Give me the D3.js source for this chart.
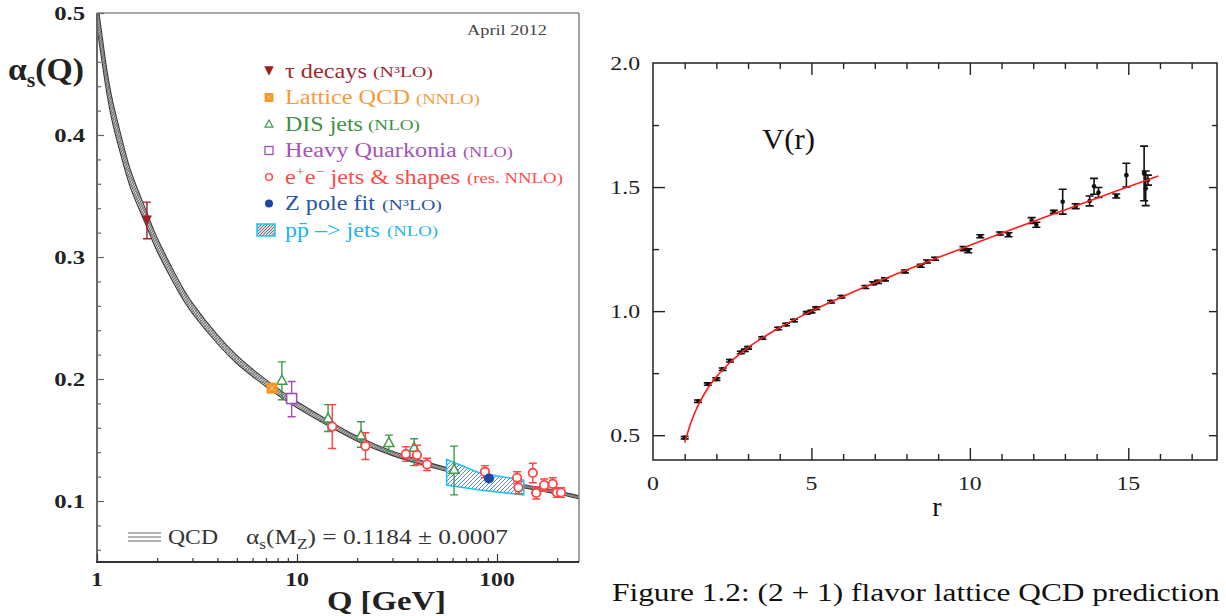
<!DOCTYPE html>
<html>
<head>
<meta charset="utf-8">
<script src="https://cdn.jsdelivr.net/npm/d3@7"></script>
<style>
  body { margin: 0; background: #fff; }
  svg { display: block; }
</style>
</head>
<body>
<svg id="fig" width="1226" height="616"></svg>
<script>
// ---------- left panel: running coupling alpha_s(Q) ----------
const qcdQ      = [1.0, 1.1, 1.2, 1.35, 1.5, 1.78, 2, 2.5, 3, 4, 5, 6, 7.5, 10, 15, 20, 30, 50, 70, 91.2, 120, 160, 200, 257];
const qcdAlpha  = [0.500, 0.452, 0.418, 0.385, 0.360, 0.330, 0.310, 0.279, 0.258, 0.2325, 0.216, 0.205, 0.193, 0.179, 0.162, 0.151, 0.139, 0.128, 0.122, 0.1184, 0.114, 0.110, 0.107, 0.103];
const qcdHalf   = [0.012, 0.010, 0.009, 0.008, 0.007, 0.006, 0.0055, 0.0048, 0.0042, 0.0036, 0.0033, 0.003, 0.0028, 0.0025, 0.0022, 0.002, 0.0018, 0.0016, 0.0015, 0.0015, 0.0014, 0.0013, 0.0013, 0.0012];

const tauQ = [1.777], tauAlpha = [0.330], tauLo = [0.015], tauHi = [0.015];
const latQ = [7.5], latAlpha = [0.1925], latLo = [0.002], latHi = [0.002];
const disQ = [8.4, 14.3, 20.9, 28.8, 38.5, 61];
const disAlpha = [0.199, 0.168, 0.154, 0.148, 0.144, 0.126];
const disLo = [0.016, 0.011, 0.010, 0.007, 0.015, 0.021];
const disHi = [0.015, 0.011, 0.011, 0.006, 0.007, 0.019];
const hqQ = [9.4], hqAlpha = [0.184], hqLo = [0.015], hqHi = [0.014];
const eeQ = [15, 22, 35, 39.8, 44.7, 87, 126, 128, 151, 157, 172, 190, 199, 209];
const eeAlpha = [0.161, 0.145, 0.1385, 0.1377, 0.130, 0.124, 0.119, 0.111, 0.123, 0.1066, 0.113, 0.114, 0.107, 0.107];
const eeErr = [0.018, 0.011, 0.006, 0.008, 0.005, 0.005, 0.005, 0.005, 0.008, 0.005, 0.005, 0.005, 0.004, 0.004];
const zQ = [91.2], zAlpha = [0.1184], zErr = [0.0007];
const ppQ = [56, 82, 136], ppHi = [0.134, 0.123, 0.117], ppLo = [0.113, 0.109, 0.105];

const leftYTicks = [0.1, 0.2, 0.3, 0.4, 0.5];
const leftXTicks = [1, 10, 100];
const legendMain = ["τ decays", "Lattice QCD", "DIS jets", "Heavy Quarkonia", "e+e− jets & shapes", "Z pole fit", "pp̄ –> jets"];
const legendOrder = ["(N³LO)", "(NNLO)", "(NLO)", "(NLO)", "(res. NNLO)", "(N³LO)", "(NLO)"];

// ---------- right panel: static potential V(r) ----------
const fitR = [1.0, 1.2, 1.4, 1.6, 1.8, 2.0, 2.5, 3, 3.5, 4, 5, 6, 7, 8, 9, 10, 11, 12, 13, 14, 15, 15.95];
const fitV = [0.470, 0.552, 0.614, 0.662, 0.702, 0.735, 0.801, 0.853, 0.896, 0.934, 1.000, 1.059, 1.114, 1.166, 1.216, 1.265, 1.3135, 1.361, 1.408, 1.455, 1.501, 1.545];
const latR = [1.00, 1.42, 1.73, 2.00, 2.20, 2.43, 2.77, 2.90, 3.00, 3.45, 3.95, 4.20, 4.45, 4.85, 5.00, 5.15, 5.62, 5.95, 6.70, 6.95, 7.10, 7.32, 7.95, 8.45, 8.65, 8.90, 9.80, 9.95, 10.33, 10.95, 11.22, 11.95, 12.10, 12.65, 12.93, 13.34, 13.78, 13.92, 14.06, 14.62, 14.94, 15.50, 15.55, 15.62];
const latV = [0.490, 0.637, 0.706, 0.726, 0.766, 0.800, 0.833, 0.842, 0.852, 0.892, 0.930, 0.946, 0.962, 0.993, 0.998, 1.012, 1.038, 1.058, 1.097, 1.112, 1.118, 1.128, 1.160, 1.183, 1.200, 1.211, 1.252, 1.243, 1.302, 1.313, 1.308, 1.365, 1.348, 1.400, 1.441, 1.423, 1.444, 1.503, 1.478, 1.464, 1.548, 1.555, 1.495, 1.528];
const latErr = [0.005, 0.005, 0.005, 0.005, 0.005, 0.005, 0.005, 0.005, 0.005, 0.005, 0.005, 0.005, 0.005, 0.005, 0.005, 0.005, 0.005, 0.005, 0.006, 0.006, 0.006, 0.006, 0.006, 0.006, 0.006, 0.006, 0.008, 0.008, 0.006, 0.006, 0.008, 0.012, 0.010, 0.006, 0.050, 0.010, 0.020, 0.032, 0.020, 0.008, 0.048, 0.110, 0.070, 0.020];
const rightXTicks = [0, 5, 10, 15];
const rightYTicks = [0.5, 1.0, 1.5, 2.0];

// ---------- helpers ----------
const SERIF = "'Liberation Serif', 'Times New Roman', serif";
const svg = d3.select("#fig");
const defs = svg.append("defs");

// text with optional sub/superscript parts, stretched horizontally to a width
function addText(parent, x, y, opt) {
  const g = parent.append("g");
  const t = g.append("text")
    .attr("font-family", opt.family || SERIF)
    .attr("font-size", opt.size)
    .attr("font-weight", opt.weight || "normal")
    .attr("fill", opt.fill || "#000")
    .attr("text-anchor", opt.anchor || "start");
  (opt.parts || [{ t: opt.text }]).forEach(p => {
    const ts = t.append("tspan").text(p.t);
    if (p.size) ts.attr("font-size", p.size);
    if (p.dy) ts.attr("dy", p.dy);
  });
  let s = opt.scaleX || 1;
  if (opt.width) s = opt.width / t.node().getComputedTextLength();
  g.attr("transform", `translate(${x},${y}) scale(${s},1)`);
  return g;
}

// ---------- LEFT PANEL ----------
const xL = d3.scaleLog().domain([1, 257]).range([97, 579]);
const yL = d3.scaleLinear().domain([0.05, 0.5]).range([562, 13]);
const left = svg.append("g");

defs.append("clipPath").attr("id", "clipL").append("rect")
  .attr("x", 97).attr("y", 13).attr("width", 482).attr("height", 549);

const qHatch = defs.append("pattern").attr("id", "qcdHatch")
  .attr("patternUnits", "userSpaceOnUse").attr("width", 3).attr("height", 3);
qHatch.append("rect").attr("width", 3).attr("height", 3).attr("fill", "#d4d4d4");
qHatch.append("path").attr("d", "M-1,1 L1,-1 M0,3 L3,0 M2,4 L4,2").attr("stroke", "#555").attr("stroke-width", 0.7);

const pHatch = defs.append("pattern").attr("id", "ppHatch")
  .attr("patternUnits", "userSpaceOnUse").attr("width", 4).attr("height", 4);
pHatch.append("rect").attr("width", 4).attr("height", 4).attr("fill", "#fff");
pHatch.append("path").attr("d", "M-1,1 L1,-1 M0,4 L4,0 M3,5 L5,3").attr("stroke", "#2f62c4").attr("stroke-width", 0.8);

const gHatch = defs.append("pattern").attr("id", "legHatch")
  .attr("patternUnits", "userSpaceOnUse").attr("width", 3).attr("height", 3);
gHatch.append("rect").attr("width", 3).attr("height", 3).attr("fill", "#ddd");
gHatch.append("path").attr("d", "M-1,1 L1,-1 M0,3 L3,0 M2,4 L4,2").attr("stroke", "#555").attr("stroke-width", 0.8);

// QCD band
const qcd = qcdQ.map((q, i) => ({ q, a: qcdAlpha[i], h: qcdHalf[i] }));
const plotL = left.append("g").attr("clip-path", "url(#clipL)");
plotL.append("path").datum(qcd)
  .attr("d", d3.area().x(d => xL(d.q)).y0(d => yL(d.a - d.h)).y1(d => yL(d.a + d.h)).curve(d3.curveNatural))
  .attr("fill", "url(#qcdHatch)");
[-1, -0.35, 0.35, 1].forEach(f => {
  plotL.append("path").datum(qcd)
    .attr("d", d3.line().x(d => xL(d.q)).y(d => yL(d.a + f * d.h)).curve(d3.curveNatural))
    .attr("fill", "none").attr("stroke", Math.abs(f) === 1 ? "#3a3a3a" : "#666")
    .attr("stroke-width", Math.abs(f) === 1 ? 1.1 : 0.7);
});

// pp-bar jets band
const pp = ppQ.map((q, i) => ({ q, hi: ppHi[i], lo: ppLo[i] }));
plotL.append("path").datum(pp)
  .attr("d", d3.area().x(d => xL(d.q)).y0(d => yL(d.lo)).y1(d => yL(d.hi)))
  .attr("fill", "url(#ppHatch)").attr("stroke", "#1ec3f3").attr("stroke-width", 1.6);

// data sets
function series(Q, A, lo, hi) { return Q.map((q, i) => ({ q, a: A[i], lo: lo[i], hi: hi[i] })); }
const sets = [
  { key: "dis", data: series(disQ, disAlpha, disLo, disHi), color: "#3d9a48" },
  { key: "ee", data: series(eeQ, eeAlpha, eeErr, eeErr), color: "#ff4444" },
  { key: "tau", data: series(tauQ, tauAlpha, tauLo, tauHi), color: "#a01e22" },
  { key: "hq", data: series(hqQ, hqAlpha, hqLo, hqHi), color: "#a24cbc" },
  { key: "lat", data: series(latQ, latAlpha, latLo, latHi), color: "#f7941e" },
  { key: "z", data: series(zQ, zAlpha, zErr, zErr), color: "#1a47a8" }
];

function marker(g, key, x, y, color) {
  if (key === "tau") {
    g.append("path").attr("d", `M${x - 5},${y - 5} L${x + 5},${y - 5} L${x},${y + 5} Z`).attr("fill", color);
  } else if (key === "lat") {
    g.append("rect").attr("x", x - 5.5).attr("y", y - 5.5).attr("width", 11).attr("height", 11).attr("fill", color);
    g.append("path").attr("d", `M${x - 3},${y - 3} L${x + 3},${y + 3} M${x - 3},${y + 3} L${x + 3},${y - 3}`)
      .attr("stroke", "#ffc98a").attr("stroke-width", 1);
  } else if (key === "dis") {
    g.append("path").attr("d", `M${x},${y - 5} L${x + 5},${y + 4} L${x - 5},${y + 4} Z`)
      .attr("fill", "#fff").attr("stroke", color).attr("stroke-width", 1.5);
  } else if (key === "hq") {
    g.append("rect").attr("x", x - 5).attr("y", y - 5).attr("width", 10).attr("height", 10)
      .attr("fill", "#fff").attr("stroke", color).attr("stroke-width", 1.6);
  } else if (key === "ee") {
    g.append("circle").attr("cx", x).attr("cy", y).attr("r", 4.2)
      .attr("fill", "#fff").attr("stroke", color).attr("stroke-width", 1.8);
  } else if (key === "z") {
    g.append("circle").attr("cx", x).attr("cy", y).attr("r", 5).attr("fill", color);
  }
}

sets.forEach(s => {
  const g = plotL.append("g");
  s.data.forEach(d => {
    const x = xL(d.q), y1 = yL(d.a + d.hi), y0 = yL(d.a - d.lo);
    g.append("path").attr("d", `M${x},${y1} L${x},${y0} M${x - 4},${y1} L${x + 4},${y1} M${x - 4},${y0} L${x + 4},${y0}`)
      .attr("stroke", s.color).attr("stroke-width", 1.4).attr("fill", "none");
    marker(g, s.key, x, yL(d.a), s.color);
  });
});

// frame
left.append("line").attr("x1", 97).attr("x2", 579).attr("y1", 13).attr("y2", 13).attr("stroke", "#8c8c8c").attr("stroke-width", 1.6);
left.append("line").attr("x1", 579).attr("x2", 579).attr("y1", 13).attr("y2", 562).attr("stroke", "#8c8c8c").attr("stroke-width", 1.6);
left.append("line").attr("x1", 97).attr("x2", 97).attr("y1", 13).attr("y2", 562).attr("stroke", "#666").attr("stroke-width", 2);
left.append("line").attr("x1", 96).attr("x2", 579).attr("y1", 562).attr("y2", 562).attr("stroke", "#333").attr("stroke-width", 2);

// y ticks (inward)
const yMinorL = d3.range(0.06, 0.5, 0.02).filter(v => Math.abs(v * 10 - Math.round(v * 10)) > 1e-6);
const yAxL = left.append("g").attr("transform", "translate(97,0)");
yAxL.call(d3.axisRight(yL).tickValues(leftYTicks).tickSize(7).tickFormat(""));
yAxL.append("g").call(d3.axisRight(yL).tickValues(yMinorL).tickSize(4).tickFormat(""));
yAxL.selectAll(".domain").remove();
yAxL.selectAll("line").attr("stroke", "#666").attr("stroke-width", 1.2);

// x ticks (inward)
const xMinorL = [2, 3, 4, 5, 6, 7, 8, 9, 20, 30, 40, 50, 60, 70, 80, 90, 200];
const xAxL = left.append("g").attr("transform", "translate(0,562)");
xAxL.call(d3.axisBottom(xL).tickValues(leftXTicks).tickSize(-8).tickFormat(""));
xAxL.append("g").call(d3.axisBottom(xL).tickValues(xMinorL).tickSize(-4).tickFormat(""));
xAxL.selectAll(".domain").remove();
xAxL.selectAll("line").attr("stroke", "#333").attr("stroke-width", 1.2);

// tick labels
leftYTicks.forEach(v => addText(left, 85, yL(v) + 7, { text: d3.format(".1f")(v), size: 19, weight: "bold", anchor: "end", fill: "#222", scaleX: 1.3 }));
leftXTicks.forEach(v => addText(left, xL(v), 586, { text: String(v), size: 19, weight: "bold", anchor: "middle", fill: "#222", scaleX: 1.25 }));

// axis titles
addText(left, 8, 80, { size: 31, weight: "bold", fill: "#222", width: 76,
  parts: [{ t: "α" }, { t: "s", size: 20, dy: 7 }, { t: "(Q)", dy: -7 }] });
addText(left, 327, 610, { text: "Q [GeV]", size: 28, weight: "bold", fill: "#222", width: 119 });

addText(left, 467, 35, { text: "April 2012", size: 15, fill: "#444", width: 80 });

// legend
const legColors = ["#9c2a2c", "#f99a3a", "#3f8f47", "#a553b8", "#ff4a4a", "#2c55a6", "#1db6ec"];
const legKeys = ["tau", "lat", "dis", "hq", "ee", "z", "pp"];
const legMainW = [82, 125, 78, 172, 175, 90, 95];
const legOrdX = [373, 416, 368, 463, 467, 382, 387];
const legOrdW = [60, 64, 52, 50, 96, 60, 51];
const legMarkColors = ["#a01e22", "#f7941e", "#3d9a48", "#a24cbc", "#ff4444", "#1a47a8"];
legendMain.forEach((name, i) => {
  const yc = 71 + i * 26.5;
  if (legKeys[i] === "pp") {
    left.append("rect").attr("x", 257).attr("y", yc - 6).attr("width", 18).attr("height", 12)
      .attr("fill", "url(#legHatch)").attr("stroke", "#1ec3f3").attr("stroke-width", 1.5);
  } else {
    const g = left.append("g");
    const sc = legKeys[i] === "tau" ? 0.95 : 0.8;
    g.attr("transform", `translate(269,${yc}) scale(${sc})`);
    marker(g, legKeys[i], 0, 0, legMarkColors[i]);
  }
  let parts;
  if (name.startsWith("e+e−")) {
    parts = [{ t: "e" }, { t: "+", size: 13, dy: -8 }, { t: "e", dy: 8 }, { t: "−", size: 13, dy: -8 }, { t: name.slice(4), dy: 8 }];
  } else {
    parts = [{ t: name }];
  }
  addText(left, 285, yc + 6.5, { size: 20, fill: legColors[i], width: legMainW[i], parts });
  addText(left, legOrdX[i], yc + 6, { text: legendOrder[i], size: 14, fill: legColors[i], width: legOrdW[i] });
});

// QCD caption inside the frame
[533, 537, 541].forEach(y => left.append("line").attr("x1", 128).attr("x2", 161).attr("y1", y).attr("y2", y).attr("stroke", "#666").attr("stroke-width", 1));
addText(left, 168, 544, { text: "QCD", size: 22, fill: "#333", width: 50 });
addText(left, 246, 544, { size: 22, fill: "#333", width: 262,
  parts: [{ t: "α" }, { t: "s", size: 15, dy: 5 }, { t: "(M", dy: -5 }, { t: "Z", size: 15, dy: 5 }, { t: ") = 0.1184 ± 0.0007", dy: -5 }] });

// ---------- RIGHT PANEL ----------
const xR = d3.scaleLinear().domain([0, 17.8]).range([653, 1217]);
const yR = d3.scaleLinear().domain([0.4, 2.0]).range([460, 63]);
const right = svg.append("g");

// lattice points with error bars
const pts = latR.map((r, i) => ({ r, v: latV[i], e: latErr[i] }));
const pg = right.append("g");
pts.forEach(d => {
  const x = xR(d.r), y1 = yR(d.v + d.e), y0 = yR(d.v - d.e);
  pg.append("path").attr("d", `M${x},${y1} L${x},${y0} M${x - 4},${y1} L${x + 4},${y1} M${x - 4},${y0} L${x + 4},${y0}`)
    .attr("stroke", "#111").attr("stroke-width", 1.6).attr("fill", "none");
  pg.append("circle").attr("cx", x).attr("cy", yR(d.v)).attr("r", 2.3).attr("fill", "#111");
});

// fit curve
right.append("path").datum(fitR.map((r, i) => ({ r, v: fitV[i] })))
  .attr("d", d3.line().x(d => xR(d.r)).y(d => yR(d.v)).curve(d3.curveMonotoneX))
  .attr("fill", "none").attr("stroke", "#ff1c1c").attr("stroke-width", 1.6);

// frame
right.append("rect").attr("x", 653).attr("y", 63).attr("width", 564).attr("height", 397)
  .attr("fill", "none").attr("stroke", "#222").attr("stroke-width", 1.5);

const rMinor = d3.range(1, 18).filter(v => v % 5 !== 0);
const rMajor = [5, 10, 15];
const vMinor = [0.75, 1.25, 1.75];
function styleAxis(g) { g.selectAll(".domain").remove(); g.selectAll("line").attr("stroke", "#222").attr("stroke-width", 1.4); }

const bx = right.append("g").attr("transform", "translate(0,460)");
bx.call(d3.axisBottom(xR).tickValues(rMajor).tickSize(-12).tickFormat(""));
bx.append("g").call(d3.axisBottom(xR).tickValues(rMinor).tickSize(-6).tickFormat(""));
styleAxis(bx);
const tx = right.append("g").attr("transform", "translate(0,63)");
tx.call(d3.axisTop(xR).tickValues(rMajor).tickSize(-12).tickFormat(""));
tx.append("g").call(d3.axisTop(xR).tickValues(rMinor).tickSize(-6).tickFormat(""));
styleAxis(tx);
const ly = right.append("g").attr("transform", "translate(653,0)");
ly.call(d3.axisLeft(yR).tickValues(rightYTicks.filter(v => v < 2)).tickSize(-12).tickFormat(""));
ly.append("g").call(d3.axisLeft(yR).tickValues(vMinor).tickSize(-6).tickFormat(""));
styleAxis(ly);
const ry = right.append("g").attr("transform", "translate(1217,0)");
ry.call(d3.axisRight(yR).tickValues(rightYTicks.filter(v => v < 2)).tickSize(-8).tickFormat(""));
ry.append("g").call(d3.axisRight(yR).tickValues(vMinor).tickSize(-5).tickFormat(""));
styleAxis(ry);

rightYTicks.forEach(v => addText(right, 640, yR(v) + 7, { text: d3.format(".1f")(v), size: 19, fill: "#222", anchor: "end", scaleX: 1.25 }));
rightXTicks.forEach(v => addText(right, xR(v), 490, { text: String(v), size: 19, fill: "#222", anchor: "middle", scaleX: 1.25 }));

addText(right, 762, 149, { text: "V(r)", size: 30, fill: "#111", width: 53 });
addText(right, 937, 516, { text: "r", size: 28, fill: "#111", anchor: "middle" });

// figure caption
addText(svg, 612, 601, { text: "Figure 1.2: (2 + 1) flavor lattice QCD prediction", size: 25, fill: "#111", width: 608 });
</script>
</body>
</html>
